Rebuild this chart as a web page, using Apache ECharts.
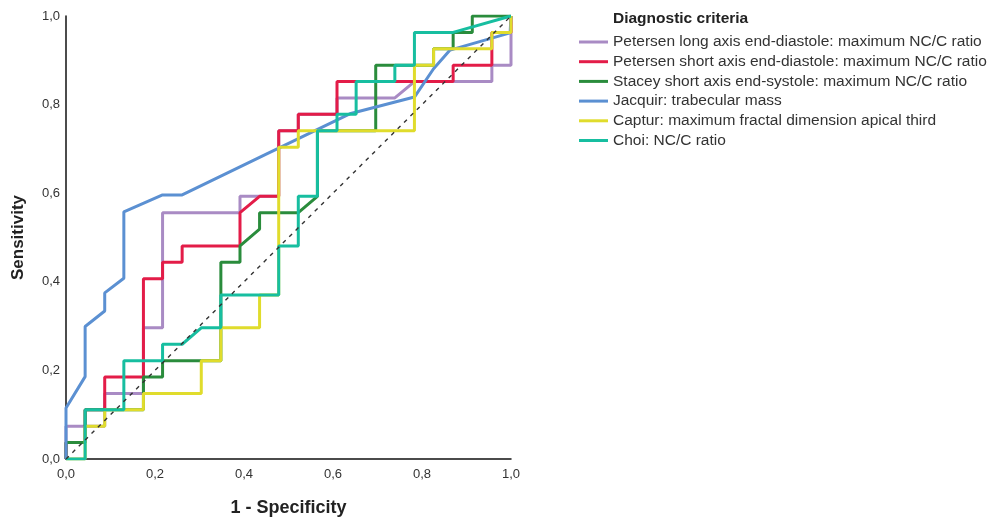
<!DOCTYPE html>
<html>
<head>
<meta charset="utf-8">
<script src="https://cdn.jsdelivr.net/npm/echarts@6/dist/echarts.min.js"></script>
<style>
  html, body { margin: 0; padding: 0; background: #fff; }
  #chart { width: 992px; height: 517px; }
</style>
</head>
<body>
<div id="chart"></div>
<script>
// ROC curves: [1 - specificity, sensitivity]
const petersenLong = [
  [0, 0], [0, 0.074], [0.087, 0.074], [0.087, 0.148], [0.174, 0.148], [0.174, 0.296],
  [0.217, 0.296], [0.217, 0.556], [0.391, 0.556], [0.391, 0.593], [0.478, 0.593],
  [0.478, 0.741], [0.522, 0.741], [0.522, 0.778], [0.609, 0.778], [0.609, 0.815],
  [0.739, 0.815], [0.783, 0.852], [0.957, 0.852], [0.957, 0.889], [1, 0.889], [1, 1]
];
const petersenShort = [
  [0, 0], [0, 0.037], [0.043, 0.037], [0.043, 0.111], [0.087, 0.111], [0.087, 0.185],
  [0.174, 0.185], [0.174, 0.407], [0.217, 0.407], [0.217, 0.444], [0.261, 0.444],
  [0.261, 0.481], [0.391, 0.481], [0.391, 0.556], [0.435, 0.593], [0.478, 0.593],
  [0.478, 0.741], [0.522, 0.741], [0.522, 0.778], [0.609, 0.778], [0.609, 0.852],
  [0.870, 0.852], [0.870, 0.889], [0.957, 0.889], [0.957, 0.963], [1, 0.963], [1, 1]
];
const staceyShort = [
  [0, 0], [0, 0.037], [0.043, 0.037], [0.043, 0.111], [0.174, 0.111], [0.174, 0.185],
  [0.217, 0.185], [0.217, 0.222], [0.348, 0.222], [0.348, 0.444], [0.391, 0.444],
  [0.391, 0.481], [0.435, 0.519], [0.435, 0.556], [0.522, 0.556], [0.565, 0.593],
  [0.565, 0.741], [0.696, 0.741], [0.696, 0.889], [0.826, 0.889], [0.826, 0.926],
  [0.870, 0.926], [0.870, 0.963], [0.913, 0.963], [0.913, 1], [1, 1]
];
const jacquir = [
  [0, 0], [0, 0.115], [0.043, 0.186], [0.043, 0.299], [0.087, 0.334], [0.087, 0.375],
  [0.130, 0.408], [0.130, 0.558], [0.217, 0.596], [0.261, 0.596], [0.45, 0.688],
  [0.64, 0.78], [0.783, 0.817], [0.826, 0.881], [0.863, 0.923], [0.953, 0.949],
  [0.998, 0.962], [1, 1]
];
const captur = [
  [0, 0], [0.043, 0], [0.043, 0.074], [0.087, 0.074], [0.087, 0.111], [0.174, 0.111],
  [0.174, 0.148], [0.304, 0.148], [0.304, 0.222], [0.348, 0.222], [0.348, 0.296],
  [0.435, 0.296], [0.435, 0.370], [0.478, 0.370], [0.478, 0.704], [0.522, 0.704],
  [0.522, 0.741], [0.783, 0.741], [0.783, 0.889], [0.826, 0.889], [0.826, 0.926],
  [0.957, 0.926], [0.957, 0.963], [1, 0.963], [1, 1]
];
const choi = [
  [0, 0], [0.043, 0], [0.043, 0.111], [0.130, 0.111], [0.130, 0.222], [0.217, 0.222],
  [0.217, 0.259], [0.261, 0.259], [0.304, 0.296], [0.348, 0.296], [0.348, 0.370],
  [0.478, 0.370], [0.478, 0.481], [0.522, 0.481], [0.522, 0.593], [0.565, 0.593],
  [0.565, 0.741], [0.609, 0.741], [0.609, 0.778], [0.652, 0.778], [0.652, 0.852],
  [0.739, 0.852], [0.739, 0.889], [0.783, 0.889], [0.783, 0.963], [0.870, 0.963], [1, 1]
];
const reference = [[0, 0], [1, 1]];

const seriesNames = [
  "Petersen long axis end-diastole: maximum NC/C ratio",
  "Petersen short axis end-diastole: maximum NC/C ratio",
  "Stacey short axis end-systole: maximum NC/C ratio",
  "Jacquir: trabecular mass",
  "Captur: maximum fractal dimension apical third",
  "Choi: NC/C ratio"
];
const seriesData = [petersenLong, petersenShort, staceyShort, jacquir, captur, choi];
const colors = ["#a98bc4", "#e31c48", "#2a8c3c", "#5b90d2", "#e0dc2c", "#17bea0"];
const tickLabels = ["0,0", "0,2", "0,4", "0,6", "0,8", "1,0"];

const chart = echarts.init(document.getElementById("chart"), null, { renderer: "canvas" });

const axisCommon = {
  type: "value",
  min: 0,
  max: 1,
  interval: 0.2,
  nameLocation: "middle",
  nameTextStyle: { fontFamily: "Liberation Sans", fontWeight: "bold", fontSize: 17, color: "#222" },
  axisLine: { show: true, lineStyle: { color: "#111", width: 1.5 } },
  axisTick: { show: false },
  splitLine: { show: false },
  axisLabel: {
    fontFamily: "Liberation Sans",
    fontSize: 13,
    color: "#333",
    formatter: (v) => tickLabels[Math.round(v * 5)]
  }
};

const series = seriesData.map((d, i) => ({
  name: seriesNames[i],
  type: "line",
  data: d,
  showSymbol: false,
  symbol: "none",
  lineStyle: { color: colors[i], width: 3 },
  itemStyle: { color: colors[i] },
  z: 2 + i
}));
series.push({
  name: "ref",
  type: "line",
  data: reference,
  symbol: "none",
  lineStyle: { color: "#333", width: 1.4, type: [4, 5] },
  z: 20
});

chart.setOption({
  animation: false,
  textStyle: { fontFamily: "Liberation Sans" },
  title: {
    text: "Diagnostic criteria",
    left: 608,
    top: 6,
    textStyle: { fontFamily: "Liberation Sans", fontWeight: "bold", fontSize: 15.5, color: "#222" }
  },
  legend: {
    data: seriesNames,
    orient: "vertical",
    left: 579,
    top: 34,
    padding: 0,
    itemWidth: 29,
    itemHeight: 3,
    itemGap: 3.7,
    icon: "rect",
    textStyle: { fontFamily: "Liberation Sans", fontSize: 15.5, color: "#333" }
  },
  grid: { left: 66, right: 481, top: 16, bottom: 58, outerBoundsMode: "none" },
  xAxis: Object.assign({}, axisCommon, {
    name: "1 - Specificity",
    nameGap: 40,
    nameTextStyle: Object.assign({}, axisCommon.nameTextStyle, { fontSize: 18 }),
    axisLabel: Object.assign({}, axisCommon.axisLabel, { margin: 9 })
  }),
  yAxis: Object.assign({}, axisCommon, {
    name: "Sensitivity",
    nameGap: 39,
    axisLabel: Object.assign({}, axisCommon.axisLabel, { margin: 6 })
  }),
  series: series
});
</script>
</body>
</html>
